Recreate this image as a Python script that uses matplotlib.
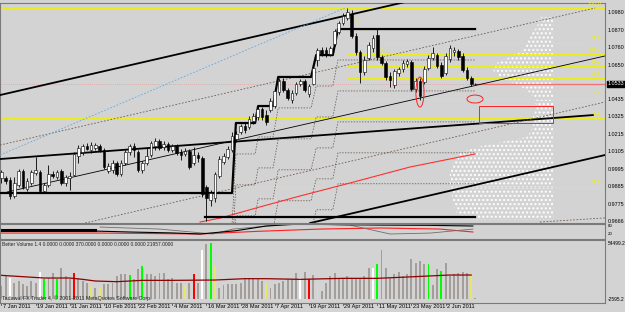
import numpy as np
import matplotlib
matplotlib.use("Agg")
import matplotlib.pyplot as plt
from matplotlib.patches import Ellipse, Rectangle

plt.rcParams["font.family"] = ["Liberation Sans", "DejaVu Sans"]

# ====== DAILY CANDLES (bar 0 = 7 Jan 2011) ======
opens = [0.9941, 0.9941, 0.9928, 0.9827, 0.9896, 0.9985, 0.9871, 0.9909, 0.9972, 0.9978,
         0.9859, 0.9896, 0.9966, 0.9947, 0.9985, 0.9909, 0.9941, 0.9959, 1.0079, 1.0104,
         1.0142, 1.0117, 1.0130, 1.0142, 1.0117, 0.9985, 0.9991, 1.0035, 0.9966, 1.0035,
         1.0104, 1.0142, 1.0104, 0.9991, 1.0035, 1.0085, 1.0142, 1.0174, 1.0136, 1.0155,
         1.0117, 1.0142, 1.0104, 1.0092, 1.0111, 1.0035, 1.0085, 1.0066, 0.9884, 0.9802,
         0.9815, 0.9953, 1.0041, 1.0073, 1.0117, 1.0186, 1.0230, 1.0268, 1.0262, 1.0300,
         1.0325, 1.0375, 1.0337, 1.0369, 1.0394, 1.0482, 1.0552, 1.0495, 1.0432, 1.0476,
         1.0533, 1.0552, 1.0470, 1.0533, 1.0684, 1.0747, 1.0747, 1.0722, 1.0785, 1.0860,
         1.0917, 1.0949, 1.0974, 1.0835, 1.0734, 1.0608, 1.0697, 1.0760, 1.0841, 1.0703,
         1.0665, 1.0583, 1.0526, 1.0602, 1.0627, 1.0659, 1.0671, 1.0501, 1.0552, 1.0545,
         1.0634, 1.0697, 1.0715, 1.0652, 1.0602, 1.0690, 1.0734, 1.0741, 1.0709, 1.0621,
         1.0571, 1.0533]
closes = [0.9978, 0.9922, 0.9827, 0.9909, 0.9985, 0.9884, 0.9922, 0.9978, 0.9991, 0.9859,
          0.9896, 0.9966, 0.9953, 0.9978, 0.9909, 0.9947, 0.9953, 1.0092, 1.0130, 1.0142,
          1.0123, 1.0148, 1.0148, 1.0117, 1.0010, 1.0016, 1.0035, 0.9966, 1.0035, 1.0104,
          1.0142, 1.0117, 0.9991, 1.0035, 1.0079, 1.0161, 1.0174, 1.0130, 1.0155, 1.0117,
          1.0142, 1.0098, 1.0085, 1.0111, 1.0010, 1.0085, 1.0066, 0.9840, 0.9815, 0.9846,
          0.9966, 1.0060, 1.0079, 1.0123, 1.0205, 1.0218, 1.0268, 1.0243, 1.0312, 1.0331,
          1.0375, 1.0325, 1.0293, 1.0426, 1.0489, 1.0552, 1.0495, 1.0445, 1.0476, 1.0533,
          1.0552, 1.0495, 1.0520, 1.0634, 1.0747, 1.0722, 1.0715, 1.0760, 1.0867, 1.0917,
          1.0961, 1.0986, 1.0835, 1.0734, 1.0608, 1.0684, 1.0778, 1.0823, 1.0703, 1.0665,
          1.0577, 1.0558, 1.0615, 1.0627, 1.0665, 1.0678, 1.0501, 1.0552, 1.0457, 1.0627,
          1.0697, 1.0728, 1.0646, 1.0583, 1.0709, 1.0760, 1.0747, 1.0703, 1.0621, 1.0571,
          1.0533, 1.0533]
highs = [0.9991, 0.9953, 0.9947, 0.9947, 0.9997, 0.9997, 0.9941, 0.9991, 1.0073, 0.9991,
         0.9909, 1.0022, 0.9985, 0.9991, 0.9997, 0.9959, 0.9978, 1.0104, 1.0148, 1.0155,
         1.0161, 1.0167, 1.0161, 1.0155, 1.0130, 1.0035, 1.0054, 1.0048, 1.0054, 1.0117,
         1.0155, 1.0161, 1.0117, 1.0048, 1.0130, 1.0174, 1.0193, 1.0186, 1.0174, 1.0167,
         1.0155, 1.0155, 1.0123, 1.0130, 1.0123, 1.0136, 1.0104, 1.0079, 0.9896, 0.9865,
         0.9978, 1.0079, 1.0098, 1.0142, 1.0230, 1.0237, 1.0281, 1.0287, 1.0331, 1.0350,
         1.0394, 1.0388, 1.0369, 1.0445, 1.0508, 1.0571, 1.0571, 1.0508, 1.0495, 1.0545,
         1.0564, 1.0564, 1.0533, 1.0646, 1.0760, 1.0766, 1.0766, 1.0772, 1.0879, 1.0930,
         1.0980, 1.1012, 1.0999, 1.0854, 1.0747, 1.0709, 1.0797, 1.0841, 1.0886, 1.0715,
         1.0678, 1.0608, 1.0627, 1.0640, 1.0684, 1.0690, 1.0684, 1.0571, 1.0571, 1.0646,
         1.0715, 1.0766, 1.0728, 1.0671, 1.0728, 1.0778, 1.0766, 1.0753, 1.0728, 1.0640,
         1.0583, 1.0539]
lows = [0.9909, 0.9903, 0.9808, 0.9815, 0.9884, 0.9871, 0.9859, 0.9896, 0.9959, 0.9846,
        0.9846, 0.9884, 0.9941, 0.9934, 0.9896, 0.9890, 0.9865, 0.9953, 1.0035, 1.0085,
        1.0117, 1.0098, 1.0117, 1.0104, 0.9997, 0.9972, 0.9972, 0.9953, 0.9953, 1.0022,
        1.0085, 1.0073, 0.9978, 0.9972, 1.0022, 1.0073, 1.0117, 1.0117, 1.0117, 1.0104,
        1.0104, 1.0085, 1.0054, 1.0079, 0.9997, 1.0022, 1.0041, 0.9821, 0.9670, 0.9764,
        0.9789, 0.9941, 1.0029, 1.0060, 1.0104, 1.0167, 1.0218, 1.0224, 1.0249, 1.0281,
        1.0306, 1.0306, 1.0274, 1.0356, 1.0381, 1.0463, 1.0482, 1.0432, 1.0413, 1.0463,
        1.0520, 1.0482, 1.0451, 1.0526, 1.0646, 1.0709, 1.0703, 1.0709, 1.0772, 1.0848,
        1.0904, 1.0936, 1.0823, 1.0715, 1.0539, 1.0589, 1.0684, 1.0734, 1.0684, 1.0652,
        1.0558, 1.0514, 1.0508, 1.0583, 1.0608, 1.0640, 1.0489, 1.0482, 1.0432, 1.0533,
        1.0621, 1.0684, 1.0634, 1.0571, 1.0589, 1.0671, 1.0709, 1.0684, 1.0608, 1.0558,
        1.0520, 1.0530]

# Better Volume histogram and its colour code per bar
volumes = [10640, 20840, 19140, 14040, 15740, 12340, 10640, 15740, 14040, 24920,
           18120, 19140, 23560, 17440, 29340, 20840, 17440, 23560, 19140, 15740,
           14040, 10640, 8940, 8940, 12340, 12340, 14040, 20840, 22540, 22540,
           21520, 17440, 27640, 31040, 22540, 22540, 20840, 24240, 24240, 17440,
           19140, 14040, 14040, 10640, 14040, 22540, 14040, 47360, 53140, 54160,
           31040, 8940, 11320, 12340, 12340, 12340, 14040, 19140, 19140, 19140,
           17440, 15740, 14040, 8940, 12340, 14040, 15740, 17440, 17440, 24240,
           19140, 24920, 17440, 21520, 12340, 5540, 14040, 20840, 24240, 17440,
           17440, 20840, 19140, 17440, 19140, 20840, 29340, 29340, 32740, 47360,
           29340, 19140, 22540, 24920, 20840, 22540, 37840, 33760, 36140, 32740,
           32740, 11320, 28320, 25940, 33760, 20840, 22540, 24240, 24920, 23560,
           22540, -1500]
vol_kind = list("nnWnnnnnnWGnnGnnnRnnnYnYnnnnnnGnnGnnnnnnnnnYnRnWnGYnnnnnnnnnnnYnnnnnnnWnRnY"
                "nnnnnnnnnnnnWGnnnnnnnnnnnGnnGnnnnnnY")
vol_ma_x = [0, 5, 10, 16, 19, 22, 27, 33, 40, 50, 57, 62, 70, 80, 88, 95, 100, 105, 110]
vol_ma_y = [21520, 20160, 18800, 18800, 17440, 15740, 15060, 16420, 16420, 16760,
            18120, 18120, 17440, 18460, 18460, 19820, 20840, 21860, 21860]

# ====== OVERLAYS (bar index, price) ======
stair_x = [-0.35, 54.0, 54.9, 59.4, 60.1, 63.6, 64.8, 72.5, 73.7, 77.6, 78.8, 110.9]
stair_y = [0.9846, 0.9846, 1.0287, 1.0287, 1.0394, 1.0394, 1.0577, 1.0577, 1.0715, 1.0715,
           1.0879, 1.0879]
stair_dotted = [
    [0.9652, 0.9652, 1.0092, 1.0092, 1.0199, 1.0199, 1.0382, 1.0382, 1.0520, 1.0520, 1.0684, 1.0684],
    [0.9457, 0.9457, 0.9897, 0.9897, 1.0004, 1.0004, 1.0187, 1.0187, 1.0325, 1.0325, 1.0489, 1.0489],
    [0.9262, 0.9262, 0.9702, 0.9702, 0.9809, 0.9809, 0.9992, 0.9992, 1.0130, 1.0130, 1.0294, 1.0294],
    [0.9067, 0.9067, 0.9507, 0.9507, 0.9614, 0.9614, 0.9797, 0.9797, 0.9935, 0.9935, 1.0099, 1.0099],
    [0.8872, 0.8872, 0.9312, 0.9312, 0.9419, 0.9419, 0.9602, 0.9602, 0.9740, 0.9740, 0.9904, 0.9904],
]
ma_x = [46.5, 51.2, 60.5, 69.9, 81.6, 95.7, 110.9]
ma_y = [0.9663, 0.9688, 0.9758, 0.9827, 0.9909, 1.0010, 1.0092]

trend_solid = [  # (x0, p0, x1, p1, lw)
    (-0.35, 1.0463, 94.5, 1.1049, 1.3),
    (-0.35, 1.0060, 138.5, 1.0337, 1.3),
    (72.3, 0.9657, 141.3, 1.0085, 1.3),
    (1.3, 0.9852, 141.3, 1.0709, 0.6),
]
trend_dotted = [
    (-0.35, 1.0148, 139.0, 1.1011),
    (19.6, 0.9657, 141.3, 1.0419),
    (126.1, 0.9663, 141.3, 0.9689),
]
blue_line = (-0.35, 1.0085, 80.4, 1.1011)
fibo_full = [(1.1012, "100.0"), (1.0319, "23.6"), (0.9884, "61.8")]
fibo_part = [(1.0791, "61.8"), (1.0722, "50.0"), (1.0646, "38.2"), (1.0571, "23.6"), (1.0438, "0.0")]
fibo_start = 80.9

profile_y = [1.0955, 1.0892, 1.0854, 1.0810, 1.0747, 1.0703, 1.0665, 1.0621, 1.0577, 1.0539,
             1.0495, 1.0451, 1.0388, 1.0325, 1.0262, 1.0199, 1.0136, 1.0098, 1.0035, 0.9972,
             0.9909, 0.9846, 0.9783, 0.9720, 0.9676]
profile_left = [126.1, 125.4, 124.2, 123.3, 122.1, 119.1, 116.0, 115.1, 116.7, 119.8,
                123.1, 124.5, 125.4, 124.5, 124.5, 123.1, 111.4, 107.4, 105.7, 105.0,
                105.0, 105.5, 105.7, 106.7, 109.0]
profile_right = 129.2

price_ticks = [1.0980, 1.0870, 1.0760, 1.0650, 1.0435, 1.0325, 1.0215, 1.0105, 0.9995,
               0.9885, 0.9775, 0.9666]
last_price = 1.0533
date_labels = ["7 Jan 2011", "19 Jan 2011", "31 Jan 2011", "10 Feb 2011", "22 Feb 2011",
               "4 Mar 2011", "16 Mar 2011", "28 Mar 2011", "7 Apr 2011", "19 Apr 2011",
               "29 Apr 2011", "11 May 2011", "23 May 2011", "2 Jun 2011"]
date_pos = [0, 8, 16, 24, 32, 40, 48, 56, 64, 72, 80, 88, 96, 104]

# stochastic-like sub window
osc_black_x = [21.9, 30, 40, 46.5, 55, 62, 69.9, 80, 88.6, 100, 110.4]
osc_black_y = [42, 35, 28, 20, 45, 80, 95, 90, 87, 85, 80]
osc_gray_x = [23.1, 37.1, 49.5, 54.2, 67.6, 81.6, 91.0, 100.4, 110.4]
osc_gray_y = [72, 57, 20, 57, 95, 87, 20, 27, 57]
osc_red_x = [-0.35, 23.1, 46.5, 60, 74.6, 88.6, 102.7, 110.4]
osc_red_y = [27, 27, 20, 40, 57, 65, 57, 35]

BG = "#d3d3d3"
XMIN, XMAX = -0.35, 141.34
COLORS = {"n": "#a39e9a", "G": "#00ff00", "R": "#ff0000", "W": "#ffffff", "Y": "#e8e46c"}
YEL = "#f2f200"
FS = 3.9


def style_axis(ax):
    ax.set_facecolor(BG)
    ax.set_xlim(XMIN, XMAX)
    ax.set_xticks([])
    ax.set_yticks([])
    for s in ax.spines.values():
        s.set_color("#7a7a7a")
        s.set_linewidth(0.8)


fig = plt.figure(figsize=(6.25, 3.12), dpi=100, facecolor=BG)
ax = fig.add_axes([0, 1 - 223 / 312, 605 / 625, 220 / 312])
sub = fig.add_axes([0, 1 - 239 / 312, 605 / 625, 15 / 312])
vol = fig.add_axes([0, 1 - 303 / 312, 605 / 625, 63 / 312])
for a in (ax, sub, vol):
    style_axis(a)

ax.set_ylim(0.9657, 1.1043)
sub.set_ylim(-17.5, 95)
vol.set_ylim(-6673, 57558)

# --- volume profile (white dots)
ax.fill_betweenx(profile_y, profile_left, profile_right, facecolor="none",
                 edgecolor="white", hatch="....", linewidth=0, zorder=1)

# --- fibo levels
for p, lab in fibo_full:
    ax.axhline(p, color=YEL, lw=0.6, zorder=2)
    ax.text(140.4, p + 0.0010, lab, color=YEL, fontsize=FS, ha="right", va="bottom")
for p, lab in fibo_part:
    ax.plot([fibo_start, XMAX], [p, p], color=YEL, lw=0.6, zorder=2)
    ax.text(140.4, p + 0.0010, lab, color=YEL, fontsize=FS, ha="right", va="bottom")
ax.plot([80.9, 96.8], [1.0999, 1.0514], color="#e6e060", lw=0.6, ls=(0, (2, 2)), zorder=2)

# --- trend lines
for x0, p0, x1, p1, lw in trend_solid:
    ax.plot([x0, x1], [p0, p1], color="black", lw=lw, zorder=3)
for x0, p0, x1, p1 in trend_dotted:
    ax.plot([x0, x1], [p0, p1], color="#6e5a50", lw=0.6, ls=(0, (2, 2)), zorder=3)
ax.plot(blue_line[::2], blue_line[1::2], color="#5fa8e8", lw=0.6, ls=(0, (2, 2)), zorder=3)

# --- staircases
for ys in stair_dotted:
    ax.plot(stair_x, ys, color="#5a4a40", lw=0.5, ls=(0, (2, 2)), zorder=3)
ax.plot(stair_x, stair_y, color="black", lw=1.6, zorder=4)
ax.plot([47.7, 110.9], [0.9695, 0.9695], color="black", lw=1.6, zorder=4)
ax.plot(ma_x, ma_y, color="#ff3030", lw=0.8, zorder=3)

# --- current price lines
ax.axhline(last_price, color="#e88a8a", lw=0.5, ls=(0, (1, 2)), zorder=2)
ax.plot([110.9, XMAX], [last_price, last_price], color="#f07070", lw=0.9, zorder=2)

# --- candles
x = np.arange(len(closes))
ax.vlines(x, lows, highs, color="black", lw=0.6, zorder=5)
body_col = ["white" if c >= o else "black" for o, c in zip(opens, closes)]
ax.bar(x, np.array(closes) - np.array(opens), bottom=opens, width=0.62, color=body_col,
       edgecolor="black", linewidth=0.4, zorder=6)

# --- markups
ax.add_patch(Ellipse((98.0, 1.0482), 1.9, 0.0189, fill=False, ec="#ff2020", lw=0.7, zorder=7))
ax.add_patch(Ellipse((110.9, 1.0438), 3.75, 0.005, fill=False, ec="#ff2020", lw=0.7, zorder=7))
ax.add_patch(Rectangle((111.8, 1.0287), 17.4, 0.0107, fill=False, ec="#ff2020", lw=0.7, zorder=7))

# --- right price scale
for p in price_ticks:
    ax.text(1.004, p, f"{p:.4f}", transform=ax.get_yaxis_transform(), fontsize=FS,
            va="center", ha="left", color="black", clip_on=False)
ax.text(1.004, last_price, f"{last_price:.4f}", transform=ax.get_yaxis_transform(),
        fontsize=FS, va="center", ha="left", color="white", clip_on=False,
        bbox=dict(boxstyle="square,pad=0.15", fc="black", ec="black"))

# --- sub window
sub.plot([-0.35, 21.9], [50, 50], color="black", lw=2.2)
sub.plot(osc_red_x, osc_red_y, color="#ff2020", lw=0.8)
sub.plot(osc_gray_x, osc_gray_y, color="#6e6e6e", lw=0.6)
sub.plot(osc_black_x, osc_black_y, color="black", lw=0.8)
sub.text(1.004, 80, "80", transform=sub.get_yaxis_transform(), fontsize=3.2, va="center")
sub.text(1.004, 20, "20", transform=sub.get_yaxis_transform(), fontsize=3.2, va="center")

# --- volume window
vx = np.arange(len(volumes))
vcol = [COLORS[k] for k in vol_kind]
vol.bar(vx, np.array(volumes) + 2595.2, bottom=-2595.2, width=0.45, color=vcol, lw=0)
vol.plot(vol_ma_x, vol_ma_y, color="#8b0000", lw=0.9)
vol.text(1.004, 54499.2, "54499.2", transform=vol.get_yaxis_transform(), fontsize=3.5, va="center")
vol.text(1.004, -2595.2, "-2595.2", transform=vol.get_yaxis_transform(), fontsize=3.5, va="center")
vol.text(0.004, 0.93, "Better Volume 1.4 0.0000 0.0000 370.0000 0.0000 0.0000 0.0000 21957.0000",
         transform=vol.transAxes, fontsize=3.5, va="center", color="#202020")
vol.text(0.004, 0.07, "Tadawul FX Trader 4, \u00a9 2001-2011 MetaQuotes Software Corp.",
         transform=vol.transAxes, fontsize=3.8, va="center", color="#202020")

# --- date axis
for pos, lab in zip(date_pos, date_labels):
    vol.plot([pos, pos], [-6673, -6673 - 2500], color="#505050", lw=0.6, clip_on=False)
    vol.text(pos + 0.3, -6673 - 1300, lab, fontsize=4.1, va="top", ha="left", clip_on=False)

fig.savefig("out.png", dpi=100, facecolor=BG)
